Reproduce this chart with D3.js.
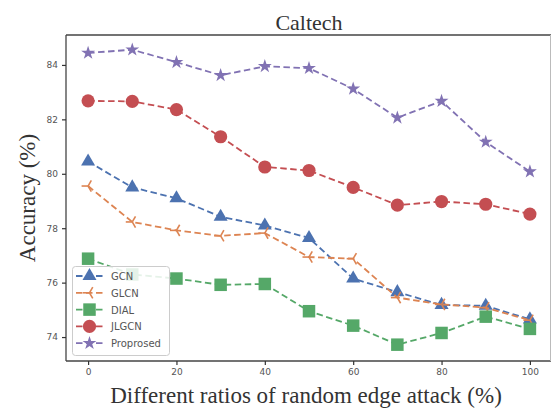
<!DOCTYPE html>
<html>
<head>
<meta charset="utf-8">
<script src="https://cdn.jsdelivr.net/npm/d3@7"></script>
<style>
  html, body { margin: 0; padding: 0; background: #fff; }
  svg { display: block; }
</style>
</head>
<body>
<svg id="chart" width="551" height="408"></svg>
<script>
// Attack ratios (%) on the x axis
const ratios = [0, 10, 20, 30, 40, 50, 60, 70, 80, 90, 100];

// Accuracy (%) per method
const gcn      = [80.45, 79.5, 79.1, 78.42, 78.1, 77.64, 76.15, 75.65, 75.18, 75.15, 74.65];
const glcn     = [79.55, 78.23, 77.92, 77.72, 77.82, 76.94, 76.88, 75.45, 75.2, 75.08, 74.62];
const dial     = [76.88, 76.3, 76.15, 75.92, 75.95, 74.95, 74.42, 73.72, 74.15, 74.75, 74.3];
const jlgcn    = [82.68, 82.66, 82.36, 81.36, 80.25, 80.12, 79.5, 78.85, 78.98, 78.88, 78.52];
const proposed = [84.44, 84.56, 84.1, 83.62, 83.95, 83.88, 83.12, 82.06, 82.67, 81.17, 80.08];

const seriesNames = ["GCN", "GLCN", "DIAL", "JLGCN", "Proprosed"];
const xTicks = [0, 20, 40, 60, 80, 100];
const yTicks = [74, 76, 78, 80, 82, 84];

const series = [
  { name: seriesNames[0], values: gcn,      color: "#4C72B0", marker: "triangle" },
  { name: seriesNames[1], values: glcn,     color: "#DD8452", marker: "trileft" },
  { name: seriesNames[2], values: dial,     color: "#55A868", marker: "square" },
  { name: seriesNames[3], values: jlgcn,    color: "#C44E52", marker: "circle" },
  { name: seriesNames[4], values: proposed, color: "#8172B3", marker: "star" }
];

const svg = d3.select("#chart");
const plot = { left: 66, top: 35, right: 552, bottom: 361 };

const x = d3.scaleLinear().domain([-5, 105]).range([plot.left, plot.right]);
const y = d3.scaleLinear().domain([73.12, 85.1]).range([plot.bottom, plot.top]);

// Marker drawing helper
function drawMarker(g, type, color) {
  if (type === "circle") {
    g.append("circle").attr("r", 6.6).attr("fill", color);
  } else if (type === "square") {
    const s = 12.5;
    g.append("rect").attr("x", -s / 2).attr("y", -s / 2).attr("width", s).attr("height", s).attr("fill", color);
  } else if (type === "triangle") {
    g.append("path").attr("d", d3.symbol().type(d3.symbolTriangle).size(85)).attr("fill", color);
  } else if (type === "star") {
    g.append("path").attr("d", d3.symbol().type(d3.symbolStar).size(60)).attr("fill", color);
  } else if (type === "trileft") {
    const r = 6.5;
    [180, 60, -60].map(a => a * Math.PI / 180).forEach(a => {
      g.append("line").attr("x1", 0).attr("y1", 0)
        .attr("x2", r * Math.cos(a)).attr("y2", -r * Math.sin(a))
        .attr("stroke", color).attr("stroke-width", 1.6);
    });
  }
}

// Series lines and markers
const line = d3.line().x((d, i) => x(ratios[i])).y(d => y(d));
const gSeries = svg.append("g");
series.forEach(s => {
  gSeries.append("path")
    .datum(s.values)
    .attr("d", line)
    .attr("fill", "none")
    .attr("stroke", s.color)
    .attr("stroke-width", 1.8)
    .attr("stroke-dasharray", "6.5,3.5");
  s.values.forEach((v, i) => {
    const g = gSeries.append("g").attr("transform", `translate(${x(ratios[i])},${y(v)})`);
    drawMarker(g, s.marker, s.color);
  });
});

// Frame
svg.append("line").attr("x1", plot.left).attr("x2", plot.right).attr("y1", plot.top).attr("y2", plot.top)
  .attr("stroke", "#444").attr("stroke-width", 1.3);
svg.append("line").attr("x1", plot.left).attr("x2", plot.right).attr("y1", plot.bottom).attr("y2", plot.bottom)
  .attr("stroke", "#444").attr("stroke-width", 1.3);
svg.append("line").attr("x1", plot.left).attr("x2", plot.left).attr("y1", plot.top).attr("y2", plot.bottom)
  .attr("stroke", "#444").attr("stroke-width", 1.3);
svg.append("line").attr("x1", 550.5).attr("x2", 550.5).attr("y1", plot.top).attr("y2", plot.bottom)
  .attr("stroke", "#bbb").attr("stroke-width", 1);

// Axes
const xAxis = d3.axisBottom(x).tickValues(xTicks).tickSize(4).tickPadding(4);
const yAxis = d3.axisLeft(y).tickValues(yTicks).tickSize(4).tickPadding(4);

const gx = svg.append("g").attr("transform", `translate(0,${plot.bottom})`).call(xAxis);
const gy = svg.append("g").attr("transform", `translate(${plot.left},0)`).call(yAxis);
[gx, gy].forEach(g => {
  g.select(".domain").remove();
  g.selectAll(".tick line").attr("stroke", "#333").attr("stroke-width", 1.2);
  g.selectAll(".tick text")
    .attr("fill", "#555")
    .style("font-family", "'DejaVu Sans', sans-serif")
    .style("font-size", "9px");
});

// Title and axis labels
const serif = "'Liberation Serif', 'Times New Roman', serif";
svg.append("text").attr("x", 309).attr("y", 30).attr("text-anchor", "middle")
  .style("font-family", serif).style("font-size", "22px")
  .attr("fill", "#333").text("Caltech");
svg.append("text").attr("x", 306).attr("y", 403).attr("text-anchor", "middle")
  .style("font-family", serif).style("font-size", "23px")
  .attr("fill", "#333").text("Different ratios of random edge attack (%)");
svg.append("text").attr("transform", "translate(35,198) rotate(-90)").attr("text-anchor", "middle")
  .style("font-family", serif).style("font-size", "23px")
  .attr("fill", "#333").text("Accuracy (%)");

// Legend
const legend = svg.append("g");
legend.append("rect").attr("x", 72.5).attr("y", 266.5).attr("width", 97).attr("height", 89).attr("rx", 3)
  .attr("fill", "#fff").attr("fill-opacity", 0.85).attr("stroke", "#ccc").attr("stroke-width", 1);
series.forEach((s, i) => {
  const ly = 276 + i * 16.8;
  legend.append("line").attr("x1", 76).attr("x2", 103).attr("y1", ly).attr("y2", ly)
    .attr("stroke", s.color).attr("stroke-width", 1.8).attr("stroke-dasharray", "6.5,3.5");
  const g = legend.append("g").attr("transform", `translate(89.5,${ly})`);
  drawMarker(g, s.marker, s.color);
  legend.append("text").attr("x", 111).attr("y", ly + 4).attr("fill", "#555")
    .style("font-family", "'DejaVu Sans', sans-serif").style("font-size", "10px").text(s.name);
});
</script>
</body>
</html>
